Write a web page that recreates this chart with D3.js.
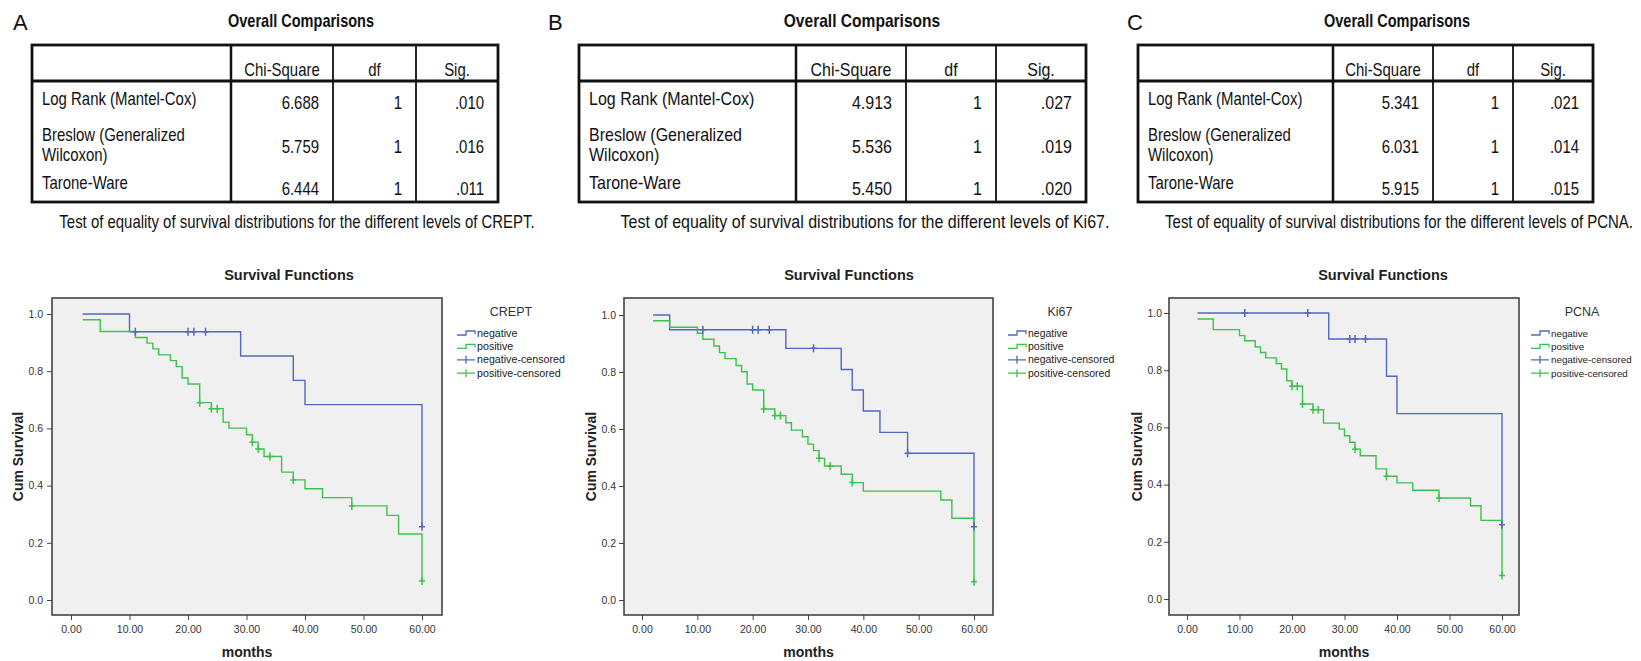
<!DOCTYPE html>
<html>
<head>
<meta charset="utf-8">
<script src="https://cdn.jsdelivr.net/npm/d3@7"></script>
<style>
  body { margin: 0; background: #fff; }
  svg { display: block; font-family: "Liberation Sans", Arial, sans-serif; }
</style>
</head>
<body>
<svg id="fig" width="1641" height="661"></svg>
<script>
// ---- data ----
var panelLetters = ["A", "B", "C"];
var markerNames = ["CREPT", "Ki67", "PCNA"];
var testNames = [["Log Rank (Mantel-Cox)"], ["Breslow (Generalized", "Wilcoxon)"], ["Tarone-Ware"]];
var tableHeaders = ["Chi-Square", "df", "Sig."];

var chiSquareCREPT = ["6.688", "5.759", "6.444"];
var dfCREPT = ["1", "1", "1"];
var sigCREPT = [".010", ".016", ".011"];

var chiSquareKi67 = ["4.913", "5.536", "5.450"];
var dfKi67 = ["1", "1", "1"];
var sigKi67 = [".027", ".019", ".020"];

var chiSquarePCNA = ["5.341", "6.031", "5.915"];
var dfPCNA = ["1", "1", "1"];
var sigPCNA = [".021", ".014", ".015"];

var monthTicks = [0, 10, 20, 30, 40, 50, 60];
var survTicks = [0, 0.2, 0.4, 0.6, 0.8, 1.0];
var legendLabels = ["negative", "positive", "negative-censored", "positive-censored"];

// survival steps: [months, cum survival from that time on]
var negCREPT = [[2,1.0],[10,0.938],[29,0.853],[38,0.768],[40,0.683],[60,0.256]];
var negCREPTCens = [[11,0.938],[20,0.938],[21,0.938],[23,0.938],[60,0.256]];
var posCREPT = [[2,0.980],[5,0.939],[11,0.918],[13,0.898],[14,0.878],[15,0.857],[17,0.837],[18,0.816],[19,0.776],[20,0.755],[22,0.690],[24,0.669],[26,0.622],[27,0.601],[30,0.578],[31,0.552],[32,0.528],[33,0.502],[36,0.447],[38,0.420],[40,0.389],[43,0.358],[48,0.329],[54,0.296],[56,0.231],[60,0.066]];
var posCREPTCens = [[22,0.690],[24,0.669],[25,0.669],[31,0.552],[32,0.528],[34,0.502],[38,0.420],[48,0.329],[60,0.066]];

var negKi67 = [[2,1.0],[5,0.948],[26,0.883],[36,0.809],[38,0.737],[40,0.663],[43,0.588],[48,0.515],[60,0.257]];
var negKi67Cens = [[11,0.948],[20,0.948],[21,0.948],[23,0.948],[31,0.883],[48,0.515],[60,0.257]];
var posKi67 = [[2,0.980],[5,0.957],[10,0.936],[11,0.915],[13,0.891],[14,0.868],[15,0.847],[17,0.823],[18,0.801],[19,0.758],[20,0.737],[22,0.670],[24,0.647],[26,0.622],[27,0.596],[29,0.573],[30,0.547],[31,0.524],[32,0.497],[33,0.470],[36,0.441],[38,0.412],[40,0.382],[54,0.351],[56,0.287],[60,0.064]];
var posKi67Cens = [[22,0.670],[24,0.647],[25,0.647],[32,0.497],[34,0.470],[38,0.412],[60,0.064]];

var negPCNA = [[2,1.0],[27,0.909],[38,0.779],[40,0.648],[60,0.260]];
var negPCNACens = [[11,1.0],[23,1.0],[31,0.909],[32,0.909],[34,0.909],[60,0.260]];
var posPCNA = [[2,0.979],[5,0.942],[10,0.921],[11,0.903],[13,0.881],[14,0.862],[15,0.843],[17,0.823],[18,0.804],[19,0.763],[20,0.744],[22,0.682],[24,0.662],[26,0.615],[29,0.594],[30,0.571],[31,0.548],[32,0.524],[33,0.501],[36,0.455],[38,0.429],[40,0.406],[43,0.380],[48,0.353],[54,0.326],[56,0.275],[60,0.082]];
var posPCNACens = [[20,0.744],[21,0.744],[22,0.682],[24,0.662],[25,0.662],[32,0.524],[38,0.429],[48,0.353],[60,0.082]];

// ---- layout (pixel positions per panel) ----
var layouts = [
  { letterX: 13, cols: [32, 231, 333, 416, 498], titleX: 301, capX: 297, narrow: 0.83,
    frame: {l: 52, t: 298, r: 442, b: 615}, x0: 71, x60: 422, y0: 600, y1: 314, tickPad: 4,
    ylabX: 18, sfTitleX: 289, legSX: 457, legTitleX: 511, legFont: 10.7 },
  { letterX: 548, cols: [579, 796, 906, 996, 1086], titleX: 862, capX: 865, narrow: 0.89,
    frame: {l: 624, t: 298, r: 993, b: 615}, x0: 642, x60: 974, y0: 600, y1: 315, tickPad: 3,
    ylabX: 591, sfTitleX: 849, legSX: 1008, legTitleX: 1060, legFont: 10.5 },
  { letterX: 1127, cols: [1138, 1333, 1433, 1513, 1593], titleX: 1397, capX: 1399, narrow: 0.83,
    frame: {l: 1169, t: 298, r: 1519, b: 615}, x0: 1187, x60: 1502, y0: 599, y1: 313, tickPad: 2,
    ylabX: 1137, sfTitleX: 1383, legSX: 1531, legTitleX: 1582, legFont: 9.8 }
];

var tables = [
  [chiSquareCREPT, dfCREPT, sigCREPT],
  [chiSquareKi67, dfKi67, sigKi67],
  [chiSquarePCNA, dfPCNA, sigPCNA]
];
var curves = [
  {neg: negCREPT, negCens: negCREPTCens, pos: posCREPT, posCens: posCREPTCens},
  {neg: negKi67, negCens: negKi67Cens, pos: posKi67, posCens: posKi67Cens},
  {neg: negPCNA, negCens: negPCNACens, pos: posPCNA, posCens: posPCNACens}
];

var blue = "#5068bd", green = "#3cc24c";
var svg = d3.select("#fig");

function ntext(sel, sx, x, y, str, anchor, size, weight) {
  return sel.append("text")
    .attr("transform", "translate(" + x + "," + y + ") scale(" + sx + ",1)")
    .attr("text-anchor", anchor)
    .style("font-size", size + "px")
    .style("font-weight", weight || "normal")
    .attr("fill", "#111")
    .text(str);
}

function drawTable(g, L, vals, letter, marker) {
  var n = L.narrow;
  g.append("text").attr("x", L.letterX).attr("y", 30)
    .style("font-size", "22px").attr("fill", "#111").text(letter);
  ntext(g, n, L.titleX, 27, "Overall Comparisons", "middle", 17.5, "bold");

  var c = L.cols, top = 45, hdr = 81, bot = 202;
  g.append("rect").attr("x", c[0]).attr("y", top)
    .attr("width", c[4] - c[0]).attr("height", bot - top)
    .attr("fill", "none").attr("stroke", "#111").attr("stroke-width", 2.8);
  c.slice(1, 4).forEach(function(cx, i) {
    g.append("line").attr("x1", cx).attr("x2", cx).attr("y1", top).attr("y2", bot)
      .attr("stroke", "#111").attr("stroke-width", i === 0 ? 2.5 : 1.8);
  });
  g.append("line").attr("x1", c[0]).attr("x2", c[4]).attr("y1", hdr).attr("y2", hdr)
    .attr("stroke", "#111").attr("stroke-width", 2.8);

  tableHeaders.forEach(function(h, i) {
    ntext(g, n, (c[i + 1] + c[i + 2]) / 2, 76, h, "middle", 18);
  });

  var labelBase = [[105], [141, 161], [189]];
  var valueBase = [109, 153, 195];
  testNames.forEach(function(lines, r) {
    lines.forEach(function(s, k) { ntext(g, n, c[0] + 10, labelBase[r][k], s, "start", 18); });
    vals.forEach(function(col, j) {
      ntext(g, n, c[j + 2] - 14, valueBase[r], col[r], "end", 18);
    });
  });

  ntext(g, n, L.capX, 228, "Test of equality of survival distributions for the different levels of " + marker + ".", "middle", 18);
}

function drawPlot(g, L, cv, marker) {
  var F = L.frame;
  var x = d3.scaleLinear().domain([0, 60]).range([L.x0, L.x60]);
  var y = d3.scaleLinear().domain([0, 1]).range([L.y0, L.y1]);

  g.append("rect").attr("x", F.l).attr("y", F.t)
    .attr("width", F.r - F.l).attr("height", F.b - F.t)
    .attr("fill", "#f0f0f0").attr("stroke", "#444").attr("stroke-width", 1.6);

  var ya = g.append("g").attr("transform", "translate(" + F.l + ",0)")
    .call(d3.axisLeft(y).tickValues(survTicks).tickFormat(d3.format(".1f")).tickSize(5).tickPadding(L.tickPad));
  var xa = g.append("g").attr("transform", "translate(0," + F.b + ")")
    .call(d3.axisBottom(x).tickValues(monthTicks).tickFormat(d3.format(".2f")).tickSize(5).tickPadding(6));
  [ya, xa].forEach(function(a) {
    a.select(".domain").remove();
    a.selectAll("line").attr("stroke", "#444");
    a.selectAll("text").attr("fill", "#333")
      .style("font-family", "\"Liberation Sans\", Arial, sans-serif").style("font-size", "10.5px");
  });

  var line = d3.line().curve(d3.curveStepAfter)
    .x(function(d) { return x(d[0]); }).y(function(d) { return y(d[1]); });
  [[cv.neg, blue], [cv.pos, green]].forEach(function(p) {
    g.append("path").datum(p[0]).attr("d", line)
      .attr("fill", "none").attr("stroke", p[1]).attr("stroke-width", 1.4);
  });
  [[cv.negCens, blue], [cv.posCens, green]].forEach(function(p) {
    g.selectAll(null).data(p[0]).enter().append("path")
      .attr("d", function(d) {
        var px = x(d[0]), py = y(d[1]);
        return "M" + (px - 3) + "," + py + "H" + (px + 3) + "M" + px + "," + (py - 4) + "V" + (py + 4);
      })
      .attr("fill", "none").attr("stroke", p[1]).attr("stroke-width", 1.5);
  });

  g.append("text").attr("x", L.sfTitleX).attr("y", 280).attr("text-anchor", "middle")
    .style("font-size", "14.5px").style("font-weight", "bold").attr("fill", "#222").text("Survival Functions");
  g.append("text").attr("x", (F.l + F.r) / 2).attr("y", 657).attr("text-anchor", "middle")
    .style("font-size", "14px").style("font-weight", "bold").attr("fill", "#222").text("months");
  g.append("text").attr("transform", "translate(" + (L.ylabX + 5) + "," + ((F.t + F.b) / 2) + ") rotate(-90)")
    .attr("text-anchor", "middle")
    .style("font-size", "14px").style("font-weight", "bold").attr("fill", "#222").text("Cum Survival");

  // legend
  g.append("text").attr("x", L.legTitleX).attr("y", 316).attr("text-anchor", "middle")
    .style("font-size", "12.5px").attr("fill", "#333").text(marker);
  var sx = L.legSX;
  legendLabels.forEach(function(lab, i) {
    var cy = 333 + i * 13.4, col = (i % 2 === 0) ? blue : green;
    var d = (i < 2)
      ? "M" + sx + "," + (cy + 2) + "H" + (sx + 9) + "V" + (cy - 2) + "H" + (sx + 18) + "V" + (cy + 1)
      : "M" + sx + "," + cy + "H" + (sx + 18) + "M" + (sx + 9) + "," + (cy - 4) + "V" + (cy + 4);
    g.append("path").attr("d", d).attr("fill", "none").attr("stroke", col).attr("stroke-width", 1.3);
    g.append("text").attr("x", sx + 20).attr("y", cy + 3.6)
      .style("font-size", L.legFont + "px").attr("fill", "#222").text(lab);
  });
}

layouts.forEach(function(L, i) {
  var g = svg.append("g");
  drawTable(g, L, tables[i], panelLetters[i], markerNames[i]);
  drawPlot(g, L, curves[i], markerNames[i]);
});
</script>
</body>
</html>
